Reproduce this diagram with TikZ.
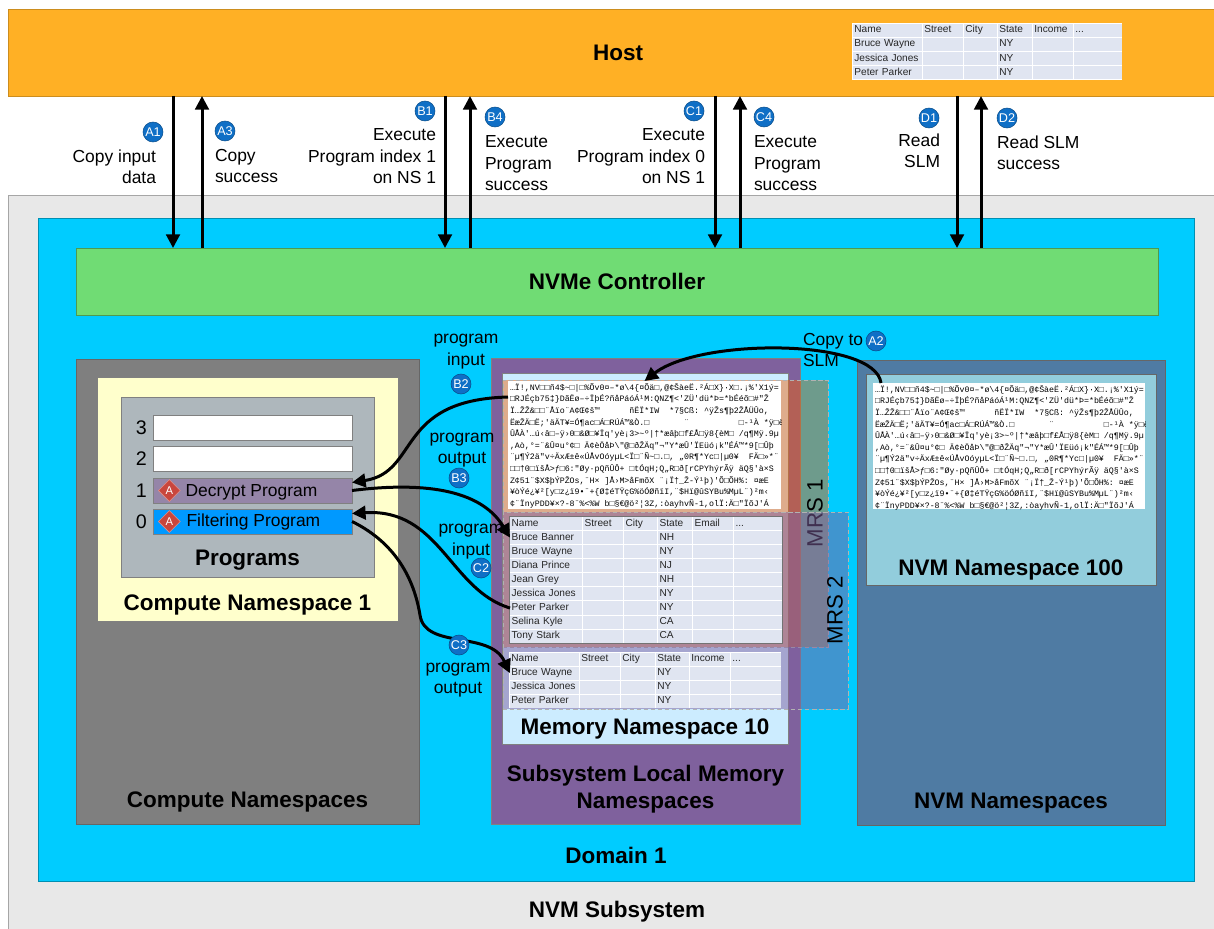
\documentclass[tikz,border=0pt]{standalone}
\usepackage{fontspec}
\setmainfont{Liberation Sans}
\setmonofont{Liberation Mono}
\usetikzlibrary{positioning, arrows.meta, shapes.geometric, matrix}

\definecolor{hostc}{HTML}{FFB025}
\definecolor{subsysc}{HTML}{E8E8E8}
\definecolor{domainc}{HTML}{00CCFF}
\definecolor{ctrlc}{HTML}{70DC74}
\definecolor{compc}{HTML}{7F7F7F}
\definecolor{cnsc}{HTML}{FFFFCC}
\definecolor{progc}{HTML}{AEB7BC}
\definecolor{slmc}{HTML}{7F619D}
\definecolor{memc}{HTML}{CCECFF}
\definecolor{nvmc}{HTML}{4F7BA3}
\definecolor{nsc}{HTML}{92CDDC}
\definecolor{cellc}{HTML}{E0E5F1}
\definecolor{badgec}{HTML}{0F6FC6}
\definecolor{decryptc}{HTML}{9585A8}
\definecolor{filterc}{HTML}{0099FF}
\definecolor{iconc}{HTML}{C9463D}
\definecolor{mrsa}{HTML}{F46000}
\definecolor{mrsb}{HTML}{8060A0}

\newcommand{\rawbytes}{%
…Ï!,NV□□ñ4\$\textasciitilde□|□\%Õv0¤–*ø\textbackslash4\{¤Õä□,@¢ŠàeË.²Á□X\}·X□.¡\%'X1ý=\\
□RJÉçb75‡\}DãËø–÷ÏþÉ?ñåPáóÁ¹M:QNZ¶<'ZÜ'dü*Þ=*bÉéõ□\#"Ž\\
Ï…ŽŽ\&□□¨Åïo¨A¢Œ¢š™\ \ \ \ \ \ ñËÏ*IW\ \ *7§Cß: \textasciicircum ÿŽs¶þ2ŽÅÜÛo,\\
ËæŽÄ□Ë;'äÄT¥=Ó¶ac□Á□RÚÁ™\&Ò.□\ \ \ \ \ \ \ ¨\ \ \ \ \ \ \ \ \ \ □-¹À *ÿ□ëøR±\\
ÛÅÀ'…ú‹â□–ÿ›0□\&Ø□¥Ïq'yè¡3>\textasciitilde º|†*æâþ□f£Å□ÿ8\{èM□ /q¶Mÿ.9µ\\
,Aò,°=¨\&Û¤u°¢□ Ä¢èÖåÞ\textbackslash"@□ðŽÄq"¬"Y*æÛ'ÏEüó¡k"ÉÁ™*9[□Ûþ\\
¨µ¶Ý2ä"v÷ÄxÆ±ê«ÚÅvOóyµL<Ï□¨Ñ\textasciitilde□.□, „0R¶*Yc□|µ0¥\ \ FÄ□»*¨\\
□□†0□ïšÅ>ƒ□6:"Øy·pQñÛÔ+ □tÓqH;Q„R□ð[rCPYhýrÃÿ äQ§'à×S\\
Z¢51¨\$X\$þÝPŽOs,¨H× ]Å›M>åFmõX ¨¡Ï†\_Ž-Ý¹þ)'Õ□ÕH\%: ¤æE\\
¥òÝé¿¥²[y□z¿ï9•¨+\{Ø‡éTŸçG\%öÓØñïI,¨\$Hï@ûSYBu\%MµL¨)²m‹\\
¢¨ÏnyPDD¥×?-8¨\%<\%W b□§€@ö²¦3Z,:òayhvÑ-1,olÏ:Ä□"ÏõJ'Á}

\begin{document}
\begin{tikzpicture}[
	x=.25mm, y=-.25mm,
	box/.style={rectangle, inner sep=0pt, outer sep=0pt},
	wh/.style 2 args={minimum width=#1, minimum height=#2},
	title/.style={inner sep=0pt, outer sep=0pt, align=center, font=\fontsize{16}{19.2}\selectfont\bfseries},
	note/.style={inner sep=0pt, outer sep=0pt, font=\fontsize{12.4}{15}\selectfont},
	badge/.style={circle, draw=badgec!70!black, fill=badgec, text=white, inner sep=0pt, minimum size=5mm, anchor=center, font=\fontsize{9}{9}\selectfont},
	slotbox/.style={box, draw=gray, wh={49.75mm}{6.25mm}},
	icon/.style={diamond, aspect=1, draw=iconc!60!white, fill=iconc, text=white, inner sep=0pt, minimum width=5.5mm, minimum height=5.5mm, font=\fontsize{8}{8}\selectfont},
	mrsbox/.style={box, draw=gray!60, densely dashed, fill opacity=#1},
	mrstext/.style={rotate=90, inner sep=0pt, font=\fontsize{15.8}{18}\selectfont},
	rawtext/.style={inner sep=0pt, outer sep=0pt, align=left, font=\ttfamily\fontsize{5.9}{8.25}\selectfont},
	dbtable/.style={matrix of nodes, nodes in empty cells, fill=white, inner sep=.125mm, column sep=.25mm, row sep=.25mm,
		nodes={fill=cellc, text=black!85, inner xsep=.4mm, inner ysep=.385mm, text height=1.9mm, text depth=.6mm, outer sep=0pt, font=\fontsize{7.2}{8.5}\selectfont}},
	dbcols/.style n args={6}{
		column 1/.style={nodes={text width=#1-.8mm}}, column 2/.style={nodes={text width=#2-.8mm}},
		column 3/.style={nodes={text width=#3-.8mm}}, column 4/.style={nodes={text width=#4-.8mm}},
		column 5/.style={nodes={text width=#5-.8mm}}, column 6/.style={nodes={text width=#6-.8mm}}},
	flow/.style={line width=.75mm},
	>={Triangle[length=3.4mm, width=3.4mm]}
]
\useasboundingbox (0,0) rectangle (1214,929);

\node[box, draw=hostc!80!black, fill=hostc, wh={301.5mm}{21.75mm}, anchor=north west] (host) at (8,9) {};
\node[title, at={([xshift=1.75mm]host.center)}] (host_label) {Host};
\node[box, draw=gray!70, fill=subsysc, wh={301.5mm}{183.5mm}, below=24.75mm of host] (subsys) {};
\node[title, above=1.75mm of subsys.south, xshift=1.5mm] (subsys_label) {NVM Subsystem};
\node[box, draw=domainc!70!black, fill=domainc, wh={289mm}{165.75mm}, below right=5.75mm and 7.5mm of subsys.north west] (domain) {};
\node[title, above=4.25mm of domain.south] (domain_label) {Domain 1};
\node[box, draw=ctrlc!70!black, fill=ctrlc, wh={270.5mm}{16.75mm}, font=\fontsize{16}{19.2}\selectfont\bfseries, below right=7.5mm and 9.5mm of domain.north west] (ctrl) {NVMe Controller};

\node[box, draw=black!60, fill=compc, wh={85.75mm}{116.25mm}, below right=11mm and 0mm of ctrl.south west] (compns) {};
\node[title, above=3mm of compns.south] (compns_label) {Compute Namespaces};
\node[box, draw=gray, fill=cnsc, wh={75.25mm}{61mm}, below right=4.5mm and 5.25mm of compns.north west] (cns1) {};
\node[title, above=1.5mm of cns1.south] (cns1_label) {Compute Namespace 1};
\node[box, draw=gray, fill=progc, wh={63.25mm}{45mm}, below right=5mm and 6mm of cns1.north west] (progs) {};
\node[title, above=1.75mm of progs.south] (progs_label) {Programs};

\node[slotbox, fill=white, below right=4.5mm and 8mm of progs.north west] (slot3) {};
\node[slotbox, fill=white, below=1.5mm of slot3] (slot2) {};
\node[slotbox, fill=decryptc, below=1.75mm of slot2] (slot1) {};
\node[slotbox, fill=filterc, below=1.5mm of slot1] (slot0) {};
\foreach \i in {0,...,3}
	\node[inner sep=0pt, font=\fontsize{14}{14}\selectfont, left=1.5mm of slot\i] (idx\i) {\i};
\node[icon, right=1.25mm of slot1.west] (icon1) {A};
\node[icon, right=1.25mm of slot0.west] (icon0) {A};
\node[note, right=1.25mm of icon1, yshift=-.5mm] (slot1_label) {Decrypt Program};
\node[note, right=1.5mm of icon0] (slot0_label) {Filtering Program};

\node[box, draw=black!50, fill=slmc, wh={77.25mm}{116.5mm}, below right=10.75mm and 103.75mm of ctrl.south west] (slm) {};
\node[title, above=2.75mm of slm.south] (slm_label) {Subsystem Local Memory\\Namespaces};
\node[box, draw=gray, fill=memc, wh={71.5mm}{92.75mm}, below right=3.75mm and 2.75mm of slm.north west] (mem10) {};
\node[title, above=1.25mm of mem10.south] (mem10_label) {Memory Namespace 10};

\node[mrsbox=.45, fill=mrsa, wh={81.25mm}{66.75mm}, below right=1.75mm and .25mm of mem10.north west] (mrs1) {};
\node[mrstext, at={([xshift=-3.25mm]mrs1.east)}] (mrs1_label) {MRS 1};
\node[mrsbox=.5, fill=mrsb, wh={86.25mm}{49.25mm}, below right=33mm and 0mm of mrs1.north west] (mrs2) {};
\node[mrstext, at={([xshift=-3.25mm]mrs2.east)}] (mrs2_label) {MRS 2};

\node[box, fill=white, wh={68.25mm}{32mm}, below right=.25mm and 1.25mm of mrs1.north west] (hex1) {};

\matrix (tbl1) [dbtable, draw=black!55, line width=.25mm, dbcols={18mm}{10mm}{8.25mm}{8.5mm}{10mm}{12mm}, below right=34mm and 1.5mm of mrs1.north west] {
	Name & Street & City & State & Email & ... \\
	Bruce Banner & & & NH & & \\
	Bruce Wayne & & & NY & & \\
	Diana Prince & & & NJ & & \\
	Jean Grey & & & NH & & \\
	Jessica Jones & & & NY & & \\
	Peter Parker & & & NY & & \\
	Selina Kyle & & & CA & & \\
	Tony Stark & & & CA & & \\
};
\matrix (tbl2) [dbtable, dbcols={17.25mm}{10mm}{8.5mm}{8.25mm}{10mm}{12.5mm}, below right=2mm and 0mm of tbl1.south west] {
	Name & Street & City & State & Income & ... \\
	Bruce Wayne & & & NY & & \\
	Jessica Jones & & & NY & & \\
	Peter Parker & & & NY & & \\
};
\matrix (hosttbl) [dbtable, dbcols={17.25mm}{10mm}{8.25mm}{8.5mm}{10mm}{12mm}, below right=3.5mm and 211mm of host.north west] {
	Name & Street & City & State & Income & ... \\
	Bruce Wayne & & & NY & & \\
	Jessica Jones & & & NY & & \\
	Peter Parker & & & NY & & \\
};

\node[box, draw=black!60, fill=nvmc, wh={77mm}{116.25mm}, below right=11.25mm and 195.25mm of ctrl.south west] (nvmns) {};
\node[title, above=3mm of nvmns.south] (nvmns_label) {NVM Namespaces};
\node[box, draw=black!60, fill=nsc, wh={72.5mm}{52.75mm}, below right=3.5mm and 2.25mm of nvmns.north west] (nvm100) {};
\node[title, above=1.25mm of nvm100.south] (nvm100_label) {NVM Namespace 100};
\node[box, fill=white, wh={68mm}{31.5mm}, below right=2.25mm and 1.75mm of nvm100.north west] (hex2) {};

\foreach \block in {hex1,hex2} {
	\begin{scope}
	\clip (\block.north west) rectangle (\block.south east);
	\node[rawtext, below right=.6mm and .5mm of \block.north west] (\block_text) {\rawbytes};
	\end{scope}
}

\foreach \name/\off in {a1/41.25, a3/48.5, b1/109.25, b4/115.5, c1/176.75, c4/183, d1/237.25, d2/243.25}
	\coordinate[below right=0mm and \off mm of host.south west] (\name);
\foreach \name in {a1,b1,c1,d1}
	\draw[flow, ->] (\name) -- (\name |- ctrl.north);
\foreach \name in {a3,b4,c4,d2}
	\draw[flow, ->] (\name |- ctrl.north) -- (\name);

\node[note, align=right, below left=13.5mm and 4.25mm of a1] (a1_text) {Copy input\\data};
\node[note, align=left, below right=13.25mm and 3.25mm of a3] (a3_text) {Copy\\success};
\node[note, align=right, below left=8.25mm and 2.25mm of b1] (b1_text) {Execute\\Program index 1\\on NS 1};
\node[note, align=left, below right=10mm and 3.75mm of b4] (b4_text) {Execute\\Program\\success};
\node[note, align=right, below left=8.25mm and 2.5mm of c1] (c1_text) {Execute\\Program index 0\\on NS 1};
\node[note, align=left, below right=10mm and 3.5mm of c4] (c4_text) {Execute\\Program\\success};
\node[note, align=right, below left=9.5mm and 4.25mm of d1] (d1_text) {Read\\SLM};
\node[note, align=left, below right=10mm and 4mm of d2] (d2_text) {Read SLM\\success};
\node[note, align=left, below right=-6.25mm and .75mm of slm.north east] (a2_text) {Copy to\\SLM};
\node[note, align=center, below left=-1.6mm and 6.25mm of slm.north west, anchor=center] (b2_text) {program\\input};
\node[note, align=center, below left=23.1mm and 7.25mm of slm.north west, anchor=center] (b3_text) {program\\output};
\node[note, align=center, below left=45.9mm and 5mm of slm.north west, anchor=center] (c2_text) {program\\input};
\node[note, align=center, below left=80.6mm and 8.25mm of slm.north west, anchor=center] (c3_text) {program\\output};

\draw[flow, ->] ([xshift=2mm]hex2.north west) .. controls (875,338) and (700,338) .. (hex1.north);
\draw[flow, ->] ([yshift=-4mm]hex1.north west) .. controls (395,400) and (420,472) .. ([yshift=2mm]slot1.east);
\draw[flow, ->] (slot1.east) .. controls (420,482) and (480,488) .. (tbl1-2-1.west);
\draw[flow, ->] (tbl1-7-1.west) .. controls (450,590) and (440,508) .. ([yshift=2mm]slot0.east);
\draw[flow, ->] (slot0.east) .. controls (400,545) and (415,585) .. (420,615) .. controls (425,650) and (490,630) .. (tbl2-2-1.west);

\node[below left=9mm and 5mm of a1, badge] (a1_badge) {A1};
\node[below right=8.75mm and 5.75mm of a3, badge] (a3_badge) {A3};
\node[below left=3.75mm and 5mm of b1, badge] (b1_badge) {B1};
\node[below right=5.25mm and 6.25mm of b4, badge] (b4_badge) {B4};
\node[below left=3.75mm and 5.25mm of c1, badge] (c1_badge) {C1};
\node[below right=5.25mm and 6mm of c4, badge] (c4_badge) {C4};
\node[below left=5.5mm and 7mm of d1, badge] (d1_badge) {D1};
\node[below right=5.5mm and 6.5mm of d2, badge] (d2_badge) {D2};
\node[above right=4.75mm and 4.75mm of nvmns.north west, badge] (a2_badge) {A2};
\node[below left=6.5mm and 7.5mm of slm.north west, badge] (b2_badge) {B2};
\node[below left=30mm and 8mm of slm.north west, badge] (b3_badge) {B3};
\node[below left=52.5mm and 2.5mm of slm.north west, badge] (c2_badge) {C2};
\node[below left=71.75mm and 8mm of slm.north west, badge] (c3_badge) {C3};
\end{tikzpicture}
\end{document}
